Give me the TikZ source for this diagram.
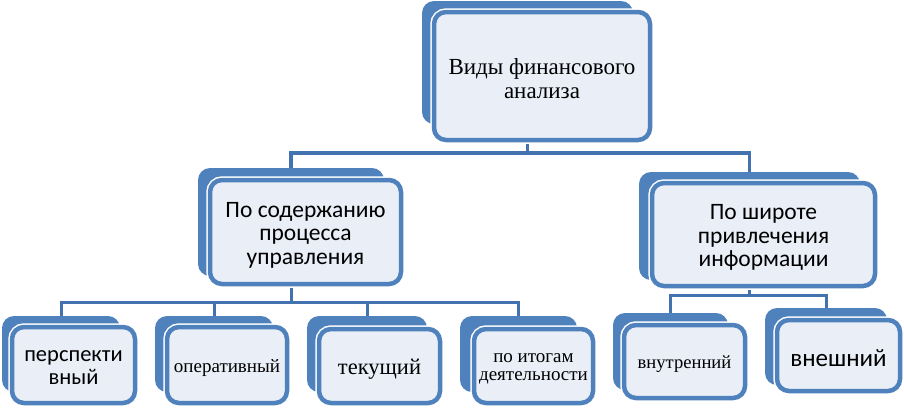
\documentclass[tikz,border=0pt]{standalone}
\usepackage{fontspec}
\setmainfont{Liberation Serif}
\newfontfamily\carl{Carlito}
\usetikzlibrary{fit,backgrounds}
\definecolor{bk}{RGB}{79,129,189}
\definecolor{fr}{RGB}{233,238,247}
\definecolor{ln}{RGB}{66,114,176}
\begin{document}
\begin{tikzpicture}[x=1pt,y=-1pt,
 backbox/.style={fill=bk, rounded corners=12pt, inner sep=0pt},
 frontbox/.style={fill=fr, draw=bk, line width=4.5pt, rounded corners=12pt, inner sep=0pt,
   preaction={draw=white, line width=7.5pt}},
 txt/.style={align=center, inner sep=0pt, text=black, yshift=-3pt},
 conn/.style={draw=ln, line width=3.5pt},
 serA/.style={font=\fontsize{23}{24}\selectfont},
 serB/.style={font=\fontsize{19}{18.5}\selectfont},
 sanA/.style={font=\carl\fontsize{23.5}{23.5}\selectfont}]
\useasboundingbox (0,0) rectangle (904,408);
% top
\node[backbox, fit={(422,1) (633,124)}] (tB) {};
\node[frontbox, fit={(434,12) (650,140)}] (tF) {};
\node[txt, serA] (tT) at (tF.center) {Виды финансового\\анализа};
% middle
\node[backbox, fit={(198,168) (384,276)}] (m1B) {};
\node[frontbox, fit={(210,180) (401,284)}] (m1F) {};
\node[txt, sanA] (m1T) at (m1F.center) {По содержанию\\процесса\\управления};
\node[backbox, fit={(639,172) (860,280)}] (m2B) {};
\node[frontbox, fit={(652,183) (875,286)}] (m2F) {};
\node[txt, sanA] (m2T) at (m2F.center) {По широте\\привлечения\\информации};
% bottom
\node[backbox, fit={(2,316) (120,392)}] (b1B) {};
\node[frontbox, fit={(12,327) (135,403)}] (b1F) {};
\node[txt, font=\carl\fontsize{22.5}{23}\selectfont] (b1T) at (b1F.center) {перспекти\\вный};
\node[backbox, fit={(155,316) (273,392)}] (b2B) {};
\node[frontbox, fit={(167,327) (287,403)}] (b2F) {};
\node[txt, serB] (b2T) at (b2F.center) {оперативный};
\node[backbox, fit={(307,316) (427,392)}] (b3B) {};
\node[frontbox, fit={(319,329) (440,403)}] (b3F) {};
\node[txt, font=\fontsize{22.5}{24}\selectfont] (b3T) at (b3F.center) {текущий};
\node[backbox, fit={(460,316) (577,392)}] (b4B) {};
\node[frontbox, fit={(474,329) (593,403)}] (b4F) {};
\node[txt, serB] (b4T) at (b4F.center) {по итогам\\деятельности};
\node[backbox, fit={(613,313) (728,390)}] (r1B) {};
\node[frontbox, fit={(624,325) (745,398)}] (r1F) {};
\node[txt, font=\fontsize{18.6}{20}\selectfont] (r1T) at (r1F.center) {внутренний};
\node[backbox, fit={(765,308) (887,385)}] (r2B) {};
\node[frontbox, fit={(777,320) (900,391)}] (r2F) {};
\node[txt, font=\carl\fontsize{25}{26}\selectfont] (r2T) at (r2F.center) {внешний};
% connectors
\begin{scope}[on background layer]
\coordinate (j1) at (tB.south |- 0,153);
\coordinate (j2) at (m1B.south |- 0,302);
\coordinate (j3) at (m2B.south |- 0,295);
\draw[conn] (tB.south) -- (j1) -| (m1B.north);
\draw[conn] (j1) -| (m2B.north);
\draw[conn, line width=3pt] (m1B.south) -- (j2) -| (b1B.north);
\draw[conn, line width=3pt] (j2) -| (b2B.north);
\draw[conn, line width=3pt] (j2) -| (b3B.north);
\draw[conn, line width=3pt] (j2) -| (b4B.north);
\draw[conn, line width=3pt] (m2B.south) -- (j3) -| (r1B.north);
\draw[conn, line width=3pt] (j3) -| (r2B.north);
\end{scope}
\end{tikzpicture}
\end{document}
